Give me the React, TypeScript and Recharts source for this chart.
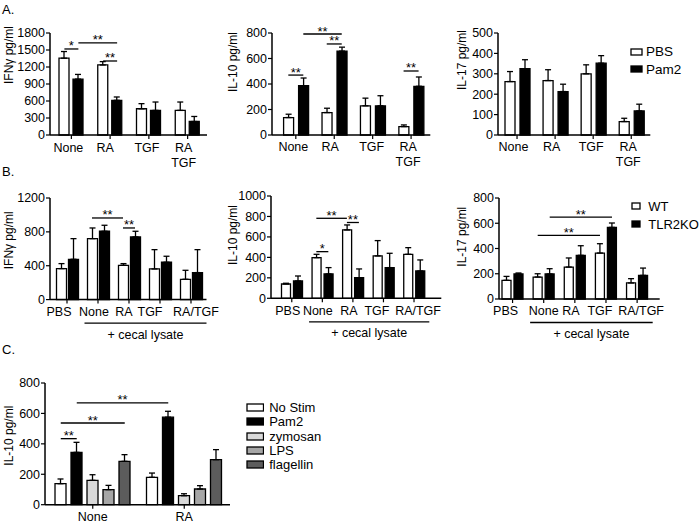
import React from 'react';
import { BarChart, Bar, XAxis, YAxis, ErrorBar, ReferenceLine, Legend } from 'recharts';

const FONT = 'Arial, "Liberation Sans", Helvetica, sans-serif';

// ---- Panel A: PBS vs Pam2 ----
const groupsA = ['None', 'RA', 'TGF', 'RA\nTGF'];
const seriesA = ['PBS', 'Pam2'];
const colorsA = ['#ffffff', '#000000'];
const ifngA_PBS = [1355, 1236, 463, 434];
const ifngA_PBS_err = [118, 59, 90, 148];
const ifngA_Pam2 = [986, 612, 434, 238];
const ifngA_Pam2_err = [83, 59, 148, 89];
const il10A_PBS = [137, 176, 229, 66];
const il10A_PBS_err = [26, 34, 60, 13];
const il10A_Pam2 = [387, 658, 229, 382];
const il10A_Pam2_err = [60, 31, 79, 73];
const il17A_PBS = [262, 267, 300, 66];
const il17A_PBS_err = [49, 53, 44, 16];
const il17A_Pam2 = [325, 213, 352, 118];
const il17A_Pam2_err = [44, 36, 37, 33];

// ---- Panel B: WT vs TLR2KO ----
const groupsB = ['PBS', 'None', 'RA', 'TGF', 'RA/TGF'];
const seriesB = ['WT', 'TLR2KO'];
const colorsB = ['#ffffff', '#000000'];
const ifngB_WT = [366, 720, 405, 362, 240];
const ifngB_WT_err = [59, 126, 20, 228, 106];
const ifngB_KO = [476, 807, 740, 441, 319];
const ifngB_KO_err = [244, 71, 67, 71, 271];
const il10B_WT = [140, 397, 668, 414, 430];
const il10B_WT_err = [7, 33, 49, 150, 65];
const il10B_KO = [169, 238, 202, 300, 267];
const il10B_KO_err = [49, 62, 85, 140, 108];
const il17B_WT = [148, 174, 253, 364, 127];
const il17B_WT_err = [31, 26, 72, 74, 34];
const il17B_KO = [198, 198, 346, 567, 187];
const il17B_KO_err = [8, 42, 76, 35, 58];

// ---- Panel C: stimuli ----
const groupsC = ['None', 'RA'];
const seriesC = ['No Stim', 'Pam2', 'zymosan', 'LPS', 'flagellin'];
const colorsC = ['#ffffff', '#000000', '#d9d9d9', '#a6a6a6', '#5c5c5c'];
const il10C_NoStim = [138, 180];
const il10C_NoStim_err = [31, 28];
const il10C_Pam2 = [344, 575];
const il10C_Pam2_err = [66, 39];
const il10C_zymosan = [160, 59];
const il10C_zymosan_err = [37, 13];
const il10C_LPS = [99, 103];
const il10C_LPS_err = [28, 22];
const il10C_flagellin = [285, 296];
const il10C_flagellin_err = [44, 66];

// axis ticks
const ticksIfngA = [0, 300, 600, 900, 1200, 1500, 1800];
const ticksIl10A = [0, 200, 400, 600, 800];
const ticksIl17A = [0, 100, 200, 300, 400, 500];
const ticksIfngB = [0, 400, 800, 1200];
const ticksIl10B = [0, 200, 400, 600, 800, 1000];
const ticksIl17B = [0, 200, 400, 600, 800];
const ticksIl10C = [0, 200, 400, 600, 800];

// significance brackets: [group, series] -> [group, series] at value y
type Br = { a: [number, number]; b: [number, number]; y: number; t: string };
const brIfngA: Br[] = [
  { a: [0, 0], b: [0, 1], y: 1518, t: '*' },
  { a: [0, 1], b: [1, 1], y: 1624, t: '**' },
  { a: [1, 0], b: [1, 1], y: 1306, t: '**' },
];
const brIl10A: Br[] = [
  { a: [0, 0], b: [0, 1], y: 470, t: '**' },
  { a: [0, 1], b: [1, 1], y: 792, t: '**' },
  { a: [1, 0], b: [1, 1], y: 714, t: '**' },
  { a: [3, 0], b: [3, 1], y: 502, t: '**' },
];
const brIfngB: Br[] = [
  { a: [1, 0], b: [2, 0], y: 964, t: '**' },
  { a: [2, 0], b: [2, 1], y: 846, t: '**' },
];
const brIl10B: Br[] = [
  { a: [1, 0], b: [2, 0], y: 782, t: '**' },
  { a: [1, 0], b: [1, 1], y: 456, t: '*' },
  { a: [2, 0], b: [2, 1], y: 741, t: '**' },
];
const brIl17B: Br[] = [
  { a: [1, 1], b: [3, 1], y: 649, t: '**' },
  { a: [1, 0], b: [3, 0], y: 504, t: '**' },
];
const brIl10C: Br[] = [
  { a: [0, 0], b: [0, 1], y: 434, t: '**' },
  { a: [0, 0], b: [0, 4], y: 537, t: '**' },
  { a: [0, 1], b: [1, 1], y: 669, t: '**' },
];

type LegendCfg = { x: number; y: number; w: number; h: number; row: number; gap: number; font: number; extra: number };

type PanelProps = {
  box: { l: number; t: number; r: number; b: number };
  padL: number;
  padR: number;
  groups: string[];
  names: string[];
  colors: string[];
  values: number[][];
  errors: number[][];
  ticks: number[];
  tickDx: number[];
  yLabel: string;
  yLabelPos: [number, number];
  brackets: Br[];
  barSize: number;
  barGap: number;
  legend?: LegendCfg;
  cecal?: boolean;
};

const ML = 50;
const MT = 30;
const XH = 50;

function Panel(p: PanelProps) {
  const left = p.box.l - ML;
  const top = p.box.t - MT;
  const plotRight = p.box.r - left;
  const extra = p.legend ? p.legend.extra : 25;
  const width = plotRight + extra;
  const height = p.box.b - top + XH;
  const n = p.names.length;
  const step = p.barSize + p.barGap;
  const shift = (s: number) => (s - (n - 1) / 2) * step;

  const rows = p.groups.map((g, i) => {
    const r: Record<string, any> = { name: g };
    p.values.forEach((vals, s) => {
      r['v' + s] = vals[i];
      r['e' + s] = p.errors[s][i];
    });
    return r;
  });

  const renderTick = (t: any) => {
    const { x, y, payload, index } = t;
    const lines = String(payload.value).split('\n');
    const half = payload.offset ?? 0;
    const last = p.groups.length - 1;
    const dx = p.tickDx[index] ?? 0;
    return (
      <g>
        {lines.map((s, i) => (
          <text key={i} x={x + dx} y={y + 10.5 + i * 15} textAnchor="middle" fontSize={12.5} fontFamily={FONT} fill="#000">
            {s}
          </text>
        ))}
        {p.cecal && index === 2 && (
          <g>
            <line x1={x - 3 * half + 2} x2={x + (last - 2) * 2 * half + half} y1={y + 17.5} y2={y + 17.5} stroke="#000" strokeWidth={1.3} />
            <text x={x + half + 1} y={y + 33} textAnchor="middle" fontSize={12.5} fontFamily={FONT} fill="#000">
              + cecal lysate
            </text>
          </g>
        )}
      </g>
    );
  };

  const renderYLabel = () => {
    const lx = p.yLabelPos[0] - left;
    const ly = p.yLabelPos[1] - top;
    return (
      <text x={lx} y={ly} transform={`rotate(-90, ${lx}, ${ly})`} textAnchor="middle" dominantBaseline="central" fontSize={12} fontFamily={FONT} fill="#000">
        {p.yLabel}
      </text>
    );
  };

  const bracketShape = (br: Br) => (sp: any) => {
    const xa = sp.x1 + shift(br.a[1]);
    const xb = sp.x2 + shift(br.b[1]);
    return (
      <g>
        <line x1={xa} x2={xb} y1={sp.y1} y2={sp.y1} stroke="#000" strokeWidth={1.3} />
        <text x={(xa + xb) / 2} y={sp.y1 + 1.5} textAnchor="middle" fontSize={13} fontFamily={FONT} fill="#000">
          {br.t}
        </text>
      </g>
    );
  };

  const legendContent = (lg: LegendCfg) => (props: any) => {
    const items = [...(props.payload || [])].sort(
      (a: any, b: any) => p.names.indexOf(a.value) - p.names.indexOf(b.value)
    );
    return (
      <div style={{ fontFamily: FONT, fontSize: lg.font, color: '#000' }}>
        {items.map((e: any, i: number) => (
          <div key={i} style={{ display: 'flex', alignItems: 'center', height: lg.row, whiteSpace: 'nowrap' }}>
            <svg width={lg.w + 2} height={lg.h + 2} style={{ display: 'block' }}>
              <rect x={1} y={1} width={lg.w} height={lg.h} fill={e.color} stroke="#000" strokeWidth={1.3} />
            </svg>
            <span style={{ marginLeft: lg.gap, lineHeight: 1 }}>{e.value}</span>
          </div>
        ))}
      </div>
    );
  };

  return (
    <div style={{ position: 'absolute', left, top, width, height }}>
      <BarChart
        width={width}
        height={height}
        data={rows}
        margin={{ top: MT, right: extra, left: 0, bottom: 0 }}
        barGap={p.barGap}
        barSize={p.barSize}
      >
        <XAxis
          dataKey="name"
          height={XH}
          interval={0}
          padding={{ left: p.padL, right: p.padR }}
          axisLine={{ stroke: '#000', strokeWidth: 1.5 }}
          tickLine={{ stroke: '#000', strokeWidth: 1.2 }}
          tickSize={4}
          tickMargin={2}
          tick={renderTick}
        />
        <YAxis
          width={ML}
          domain={[0, p.ticks[p.ticks.length - 1]]}
          ticks={p.ticks}
          interval={0}
          axisLine={{ stroke: '#000', strokeWidth: 1.5 }}
          tickLine={{ stroke: '#000', strokeWidth: 1.2 }}
          tickSize={4}
          tickMargin={1}
          tick={{ fontSize: 12.5, fill: '#000', fontFamily: FONT }}
          label={renderYLabel}
        />
        {p.names.map((name, s) => (
          <Bar
            key={name}
            dataKey={'v' + s}
            name={name}
            fill={p.colors[s]}
            stroke="#000"
            strokeWidth={1.3}
            isAnimationActive={false}
          >
            <ErrorBar
              dataKey={(d: any) => [0, d['e' + s]]}
              direction="y"
              width={3}
              stroke="#000"
              strokeWidth={1.3}
              isAnimationActive={false}
            />
          </Bar>
        ))}
        {p.brackets.map((br, i) => (
          <ReferenceLine
            key={i}
            segment={[
              { x: p.groups[br.a[0]], y: br.y },
              { x: p.groups[br.b[0]], y: br.y },
            ]}
            ifOverflow="visible"
            shape={bracketShape(br)}
          />
        ))}
        {p.legend && (
          <Legend
            layout="vertical"
            align="center"
            verticalAlign="middle"
            wrapperStyle={{ left: p.legend.x - 1 - left, top: p.legend.y - p.legend.row / 2 - top, width: 'auto' }}
            content={legendContent(p.legend)}
          />
        )}
      </BarChart>
    </div>
  );
}

const letterStyle: React.CSSProperties = {
  position: 'absolute',
  fontFamily: FONT,
  fontSize: 13,
  lineHeight: '13px',
  color: '#000',
};

export default function App() {
  return (
    <div style={{ position: 'absolute', left: 0, top: 0, width: 700, height: 523, background: '#fff', overflow: 'hidden' }}>
      <div style={{ ...letterStyle, left: 2, top: 2.5 }}>A.</div>
      <div style={{ ...letterStyle, left: 2, top: 165 }}>B.</div>
      <div style={{ ...letterStyle, left: 2, top: 342.5 }}>C.</div>

      <Panel
        box={{ l: 50, t: 33, r: 207, b: 135 }}
        padL={2}
        padR={0}
        groups={groupsA}
        names={seriesA}
        colors={colorsA}
        values={[ifngA_PBS, ifngA_Pam2]}
        errors={[ifngA_PBS_err, ifngA_Pam2_err]}
        ticks={ticksIfngA}
        tickDx={[-3, -5, -2, -4]}
        yLabel="IFNγ pg/ml"
        yLabelPos={[9, 55]}
        brackets={brIfngA}
        barSize={10}
        barGap={4}
      />
      <Panel
        box={{ l: 271.7, t: 33, r: 430, b: 135 }}
        padL={4.6}
        padR={0}
        groups={groupsA}
        names={seriesA}
        colors={colorsA}
        values={[il10A_PBS, il10A_Pam2]}
        errors={[il10A_PBS_err, il10A_Pam2_err]}
        ticks={ticksIl10A}
        tickDx={[-2.5, -4, -1, -3]}
        yLabel="IL-10 pg/ml"
        yLabelPos={[233, 62]}
        brackets={brIl10A}
        barSize={10}
        barGap={5}
      />
      <Panel
        box={{ l: 497.7, t: 33, r: 650, b: 135 }}
        padL={0}
        padR={0}
        groups={groupsA}
        names={seriesA}
        colors={colorsA}
        values={[il17A_PBS, il17A_Pam2]}
        errors={[il17A_PBS_err, il17A_Pam2_err]}
        ticks={ticksIl17A}
        tickDx={[-3.5, -3.5, -2, -3]}
        yLabel="IL-17 pg/ml"
        yLabelPos={[462, 60]}
        brackets={[]}
        barSize={10}
        barGap={5}
        legend={{ x: 631, y: 52.2, w: 11, h: 6, row: 17.3, gap: 3, font: 13.5, extra: 50 }}
      />

      <Panel
        box={{ l: 50, t: 197.7, r: 206.5, b: 299.3 }}
        padL={1.5}
        padR={0}
        groups={groupsB}
        names={seriesB}
        colors={colorsB}
        values={[ifngB_WT, ifngB_KO]}
        errors={[ifngB_WT_err, ifngB_KO_err]}
        ticks={ticksIfngB}
        tickDx={[-8, -4, -5, -10, 5]}
        yLabel="IFNγ pg/ml"
        yLabelPos={[9, 240]}
        brackets={brIfngB}
        barSize={10}
        barGap={2}
        cecal
      />
      <Panel
        box={{ l: 270.7, t: 196, r: 441, b: 298.3 }}
        padL={5.5}
        padR={12}
        groups={groupsB}
        names={seriesB}
        colors={colorsB}
        values={[il10B_WT, il10B_KO]}
        errors={[il10B_WT_err, il10B_KO_err]}
        ticks={ticksIl10B}
        tickDx={[-4, -4.5, -4, -6.5, 4]}
        yLabel="IL-10 pg/ml"
        yLabelPos={[233, 235]}
        brackets={brIl10B}
        barSize={9}
        barGap={3}
        cecal
      />
      <Panel
        box={{ l: 499.3, t: 198.3, r: 660, b: 299.3 }}
        padL={-2}
        padR={7}
        groups={groupsB}
        names={seriesB}
        colors={colorsB}
        values={[il17B_WT, il17B_KO]}
        errors={[il17B_WT_err, il17B_KO_err]}
        ticks={ticksIl17B}
        tickDx={[-7, 0, -4, -6, 4]}
        yLabel="IL-17 pg/ml"
        yLabelPos={[462, 237]}
        brackets={brIl17B}
        barSize={9}
        barGap={3}
        legend={{ x: 632.3, y: 206.3, w: 8, h: 6, row: 18.2, gap: 7, font: 13, extra: 40 }}
        cecal
      />

      <Panel
        box={{ l: 45, t: 383.3, r: 230, b: 505 }}
        padL={2}
        padR={0}
        groups={groupsC}
        names={seriesC}
        colors={colorsC}
        values={[il10C_NoStim, il10C_Pam2, il10C_zymosan, il10C_LPS, il10C_flagellin]}
        errors={[il10C_NoStim_err, il10C_Pam2_err, il10C_zymosan_err, il10C_LPS_err, il10C_flagellin_err]}
        ticks={ticksIl10C}
        tickDx={[0, 0]}
        yLabel="IL-10 pg/ml"
        yLabelPos={[9, 436]}
        brackets={brIl10C}
        barSize={11}
        barGap={5}
        legend={{ x: 246.7, y: 407.7, w: 16.5, h: 7, row: 14.3, gap: 5, font: 13, extra: 120 }}
      />
    </div>
  );
}
